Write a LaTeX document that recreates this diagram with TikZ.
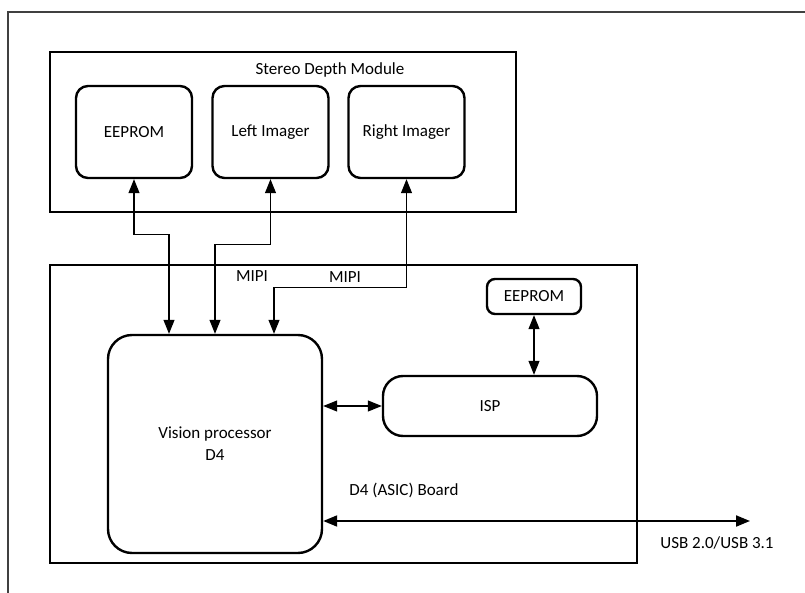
\documentclass[tikz,border=0pt]{standalone}
\usepackage{fontspec}
\setmainfont{Carlito}
\usetikzlibrary{arrows.meta}

\begin{document}
\begin{tikzpicture}[
    x=1pt,
    y=-1pt,
    frame/.style={draw, line width=1.1pt, inner sep=0pt},
    outline/.style={draw=black!75, line width=1.4pt},
    unit/.style={draw, line width=2.4pt, rounded corners=#1, align=center, inner sep=0pt},
    link/.style={{Triangle[length=14pt,width=11pt]}-{Triangle[length=14pt,width=11pt]}, line width=1.1pt},
    usblink/.style={link, line width=2pt},
    every node/.style={font=\fontsize{17}{22}\selectfont}
  ]
    \useasboundingbox (0,0) rectangle (805,593);
    \draw[outline] (8,593) -- (8,12) -- (805,12);

    \node[frame, minimum width=466pt, minimum height=160pt] (sdm) at (283,132) {};
    \node (sdmtitle) at (330,70) {Stereo Depth Module};
    \node[unit=12pt, minimum width=116pt, minimum height=92pt] (seeprom) at (134,132) {EEPROM};
    \node[unit=12pt, minimum width=116pt, minimum height=92pt] (limager) at (270.5,132) {Left Imager};
    \node[unit=12pt, minimum width=116pt, minimum height=92pt] (rimager) at (406.5,132) {Right Imager};

    \node[frame, minimum width=587pt, minimum height=298pt] (board) at (343.5,414) {};
    \node[unit=24pt, minimum width=214pt, minimum height=218pt] (vp) at (215,444) {Vision processor\\D4};
    \node[unit=20pt, minimum width=214pt, minimum height=60pt] (isp) at (490,406) {ISP};
    \node[unit=8pt, minimum width=94pt, minimum height=35pt] (beeprom) at (534,296.5) {EEPROM};
    \node (mipil) at (252,276) {MIPI};
    \node (mipir) at (345,277) {MIPI};
    \node (boardtitle) at (404,490) {D4 (ASIC) Board};
    \node (usbtext) at (717,543) {USB 2.0/USB 3.1};
    \coordinate (usbend) at (750,521);

    \draw[link] (seeprom.south) -- ++(0,55) -| ([xshift=-46pt]vp.north);
    \draw[link] (limager.south) -- ++(0,65) -| (vp.north);
    \draw[link] (rimager.south) -- ++(0,108) -| ([xshift=59pt]vp.north);
    \draw[link] (vp.east |- isp.west) -- (isp.west);
    \draw[link] (beeprom.south) -- (isp.north -| beeprom.south);
    \draw[usblink] ([yshift=-77pt]vp.east) -- (usbend);
\end{tikzpicture}
\end{document}
